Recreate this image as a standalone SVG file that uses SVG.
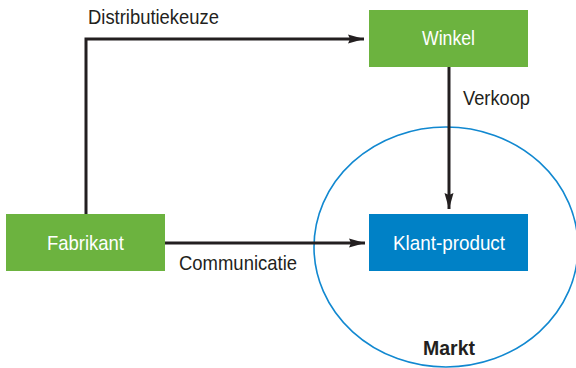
<svg xmlns="http://www.w3.org/2000/svg" width="576" height="368" viewBox="0 0 576 368">
<style>
text{font-family:"Liberation Sans",Arial,sans-serif;font-size:21px;}
.lbl{fill:#231f20;}
.nl{fill:#ffffff;}
.g{fill:#6cb33f;}
.b{fill:#0081c6;}
.c{fill:none;stroke:#231f20;stroke-width:3;}
</style>
<defs>
<marker id="ah" markerUnits="userSpaceOnUse" markerWidth="17" markerHeight="10" refX="16" refY="5" orient="auto">
<path d="M0,0.5 L16,5 L0,9.5 L2,5 Z" fill="#231f20"/>
</marker>
</defs>
<ellipse id="markt-circle" cx="446" cy="247" rx="132" ry="120" fill="none" stroke="#1188d0" stroke-width="1.6"/>
<g id="connectors">
<path class="c" d="M86,214 V39 H364" marker-end="url(#ah)"/>
<path class="c" d="M449,67 V209" marker-end="url(#ah)"/>
<path class="c" d="M165,243 H365" marker-end="url(#ah)"/>
<text class="lbl" x="88" y="24" textLength="131" lengthAdjust="spacingAndGlyphs">Distributiekeuze</text>
<text class="lbl" x="463" y="104.5" textLength="67" lengthAdjust="spacingAndGlyphs">Verkoop</text>
<text class="lbl" x="179" y="270" textLength="118" lengthAdjust="spacingAndGlyphs">Communicatie</text>
</g>
<g id="winkel">
<rect class="g" x="369" y="10" width="159" height="57"/>
<text class="nl" x="422" y="44.5" textLength="53" lengthAdjust="spacingAndGlyphs">Winkel</text>
</g>
<g id="fabrikant">
<rect class="g" x="6" y="214" width="159" height="57"/>
<text class="nl" x="47" y="249.5" textLength="77" lengthAdjust="spacingAndGlyphs">Fabrikant</text>
</g>
<g id="klant-product">
<rect class="b" x="369" y="214" width="159" height="57"/>
<text class="nl" x="393" y="249.5" textLength="112" lengthAdjust="spacingAndGlyphs">Klant-product</text>
</g>
<g id="markt">
<text class="lbl" x="423" y="354.5" font-weight="bold" textLength="52" lengthAdjust="spacingAndGlyphs">Markt</text>
</g>
</svg>
